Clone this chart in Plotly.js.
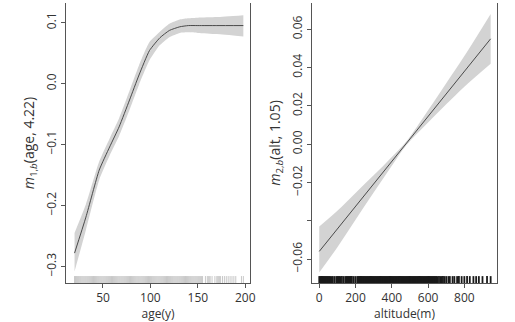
<!DOCTYPE html>
<html>
<head>
<meta charset="utf-8">
<script src="https://cdn.plot.ly/plotly-3.0.1.min.js"></script>
<style>html,body{margin:0;padding:0;background:#fff;}#chart{width:515px;height:322px;}</style>
</head>
<body>
<div id="chart"></div>
<script>
// ---- Left panel: age effect ----
const ageX     = [20, 32, 46, 57, 67, 78, 88, 99, 110, 120, 131, 140, 150, 170, 198];
const ageFit   = [-0.278, -0.219, -0.142, -0.104, -0.071, -0.027, 0.014, 0.054, 0.075, 0.087, 0.093, 0.095, 0.095, 0.095, 0.095];
const ageUpper = [-0.245, -0.198, -0.128, -0.090, -0.057, -0.012, 0.030, 0.068, 0.085, 0.098, 0.105, 0.107, 0.108, 0.109, 0.112];
const ageLower = [-0.308, -0.240, -0.158, -0.118, -0.086, -0.043, -0.002, 0.038, 0.063, 0.076, 0.083, 0.084, 0.083, 0.081, 0.077];
const ageRug = [20,21,22,23,24,25,26,27,28,29,30,31,32,33,34,35,36,37,38,39,40,41,42,43,44,45,46,47,48,49,50,
  51,52,53,54,55,56,57,58,59,60,61,62,63,64,65,66,67,68,69,70,71,72,73,74,75,76,77,78,79,80,
  81,82,83,84,85,86,87,88,89,90,91,92,93,94,95,96,97,98,99,100,101,102,103,104,105,106,107,108,109,110,
  111,112,113,114,115,116,117,118,119,120,121,122,123,124,125,126,127,128,129,130,131,132,133,134,135,136,137,138,139,140,
  141,142,143,144,145,146,147,148,149,150,151,152,153,154,155,158,160,161,162,163,165,168,170,171,172,173,174,176,178,180,182,184,186,188,190,196,198];

// ---- Right panel: altitude effect ----
const altX     = [0, 100, 200, 300, 400, 480, 600, 700, 800, 945];
const altFit   = [-0.056, -0.0443, -0.0325, -0.0208, -0.009, 0.0004, 0.0145, 0.0263, 0.038, 0.055];
const altUpper = [-0.043, -0.0348, -0.0255, -0.0163, -0.0067, 0.0014, 0.0177, 0.0318, 0.046, 0.068];
const altLower = [-0.067, -0.0538, -0.0395, -0.0253, -0.0113, -0.0006, 0.0113, 0.0208, 0.030, 0.042];
const altRug = [0,5,10,15,20,25,30,35,40,45,50,55,60,68,75,85,95,100,105,110,115,125,135,145,150,155,160,165,170,175,180,190,200,210,215,
  220,225,230,235,240,245,250,255,260,265,270,275,280,285,290,295,300,305,310,315,320,325,330,335,340,345,350,355,360,365,370,375,380,385,390,395,
  400,405,410,415,420,425,430,435,440,445,450,455,460,465,470,475,480,485,490,495,500,505,510,515,520,525,530,535,540,545,550,555,560,565,570,575,
  580,585,590,595,600,605,610,615,620,625,630,635,640,645,650,660,668,675,682,690,700,712,720,735,745,760,770,785,800,815,830,850,865,880,900,925,945];

const ageTicks = [50, 100, 150, 200];
const ageYTicks = [-0.3, -0.2, -0.1, 0.0, 0.1];
const ageYLabels = ["\u22120.3", "\u22120.2", "\u22120.1", "0.0", "0.1"];
const altTicks = [0, 200, 400, 600, 800];
const altYTicks = [-0.06, -0.04, -0.02, 0.00, 0.02, 0.04, 0.06];
const altYLabels = ["\u22120.06", "", "\u22120.02", "0.00", "0.02", "0.04", "0.06"];

const leftYRange = [-0.327, 0.132];
const rightYRange = [-0.0725, 0.0737];

const bandColor = 'rgb(211,211,211)';
const lineColor = '#3a3a3a';
const font = {family: 'Open Sans, Liberation Sans, sans-serif', size: 12, color: '#333'};
const titleFont = {family: 'Open Sans, Liberation Sans, sans-serif', size: 14, color: '#333'};
const smooth = {shape: 'spline', smoothing: 0.5};

const traces = [
  {x: ageX, y: ageUpper, xaxis: 'x', yaxis: 'y', mode: 'lines', line: Object.assign({width: 0, color: bandColor}, smooth), showlegend: false},
  {x: ageX, y: ageLower, xaxis: 'x', yaxis: 'y', mode: 'lines', line: Object.assign({width: 0, color: bandColor}, smooth), fill: 'tonexty', fillcolor: bandColor, showlegend: false},
  {x: ageX, y: ageFit, xaxis: 'x', yaxis: 'y', mode: 'lines', line: Object.assign({width: 0.9, color: lineColor}, smooth), showlegend: false},
  {x: ageRug, y: ageRug.map(() => leftYRange[0] + 0.0045), xaxis: 'x', yaxis: 'y', mode: 'markers',
   marker: {symbol: 'line-ns-open', size: 6, color: '#c8c8c8', line: {width: 1, color: '#c8c8c8'}}, showlegend: false},

  {x: altX, y: altUpper, xaxis: 'x2', yaxis: 'y2', mode: 'lines', line: {width: 0, color: bandColor, shape: 'spline'}, showlegend: false},
  {x: altX, y: altLower, xaxis: 'x2', yaxis: 'y2', mode: 'lines', line: {width: 0, color: bandColor, shape: 'spline'}, fill: 'tonexty', fillcolor: bandColor, showlegend: false},
  {x: altX, y: altFit, xaxis: 'x2', yaxis: 'y2', mode: 'lines', line: {width: 0.9, color: lineColor}, showlegend: false},
  {x: altRug, y: altRug.map(() => rightYRange[0] + 0.0014), xaxis: 'x2', yaxis: 'y2', mode: 'markers',
   marker: {symbol: 'line-ns-open', size: 6, color: '#1a1a1a', line: {width: 1.8, color: '#1a1a1a'}}, showlegend: false}
];

const axBase = {showgrid: false, zeroline: false, showline: true, linecolor: '#555', linewidth: 1,
  ticks: 'outside', ticklen: 4, tickcolor: '#555', tickfont: font};

const layout = {
  width: 515, height: 322,
  margin: {l: 66, r: 18, t: 3, b: 39},
  paper_bgcolor: '#fff', plot_bgcolor: '#fff',
  font: font,
  showlegend: false,
  xaxis: Object.assign({}, axBase, {domain: [0, 0.4269], range: [11, 205], tickvals: ageTicks, ticktext: ageTicks.map(String),
    title: {text: 'age(y)', font: font, standoff: 5}}),
  yaxis: Object.assign({}, axBase, {range: leftYRange, tickvals: ageYTicks, ticktext: ageYLabels, tickangle: -90, mirror: true,
    title: {text: '<i>m</i><sub>1,<i>b</i></sub>(age, 4.22)', font: titleFont, standoff: 5}}),
  xaxis2: Object.assign({}, axBase, {domain: [0.5708, 1], range: [-40, 980], tickvals: altTicks, ticktext: altTicks.map(String), anchor: 'y2',
    title: {text: 'altitude(m)', font: font, standoff: 5}}),
  yaxis2: Object.assign({}, axBase, {range: rightYRange, tickvals: altYTicks, ticktext: altYLabels, tickangle: -90, mirror: true, anchor: 'x2',
    title: {text: '<i>m</i><sub>2,<i>b</i></sub>(alt, 1.05)', font: titleFont, standoff: 5}})
};

Plotly.newPlot('chart', traces, layout, {staticPlot: true, displayModeBar: false});
</script>
</body>
</html>
